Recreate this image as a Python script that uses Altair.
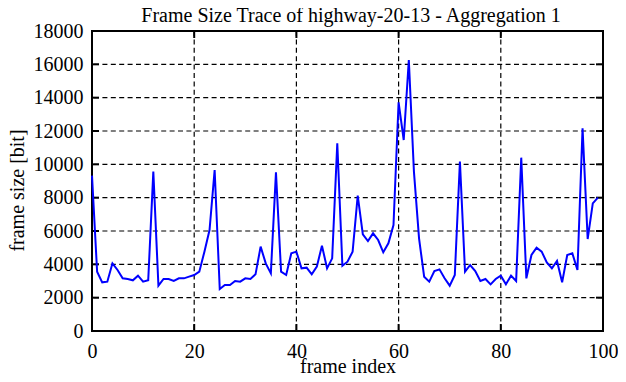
import altair as alt
import pandas as pd

frame_size = [9320, 3560, 2920, 2960, 4060, 3660, 3160, 3120, 3040, 3320,
              2960, 3040, 9560, 2720, 3120, 3120, 3000, 3160, 3160, 3260,
              3360, 3560, 4760, 6060, 9660, 2520, 2760, 2760, 3000, 2960,
              3160, 3120, 3400, 5060, 4060, 3460, 9520, 3560, 3360, 4660,
              4760, 3760, 3800, 3400, 3860, 5120, 3760, 4360, 11260, 3920,
              4160, 4760, 8120, 5800, 5400, 5860, 5460, 4720, 5260, 6360,
              13720, 11460, 16260, 9560, 5560, 3260, 2960, 3600, 3700, 3160,
              2720, 3360, 10160, 3560, 3960, 3600, 3000, 3120, 2800, 3120,
              3320, 2800, 3320, 3000, 10400, 3160, 4560, 5000, 4760, 4120,
              3760, 4200, 2920, 4560, 4660, 3660, 12160, 5520, 7660, 8000]
frame_index = list(range(len(frame_size)))

x_ticks = [0, 20, 40, 60, 80, 100]
y_ticks = [0, 2000, 4000, 6000, 8000, 10000, 12000, 14000, 16000, 18000]
title_text = ["Frame Size Trace of highway-20-13 - Aggregation 1"]

FONT = "Liberation Serif"
W, H = 511, 300

df = pd.DataFrame({"idx": frame_index, "size": frame_size})
xs = alt.Scale(domain=[0, 100], nice=False)
ys = alt.Scale(domain=[0, 18000], nice=False)

x_axis = alt.Axis(values=x_ticks, grid=False, ticks=False, domain=False,
                  labelPadding=10, labelFlush=False, format="d",
                  labelFont=FONT, labelFontSize=20, labelColor="black",
                  titleFont=FONT, titleFontSize=20, titleColor="black",
                  titleFontWeight="normal",
                  titleY=41, titleBaseline="alphabetic")
y_axis = alt.Axis(values=y_ticks, grid=False, ticks=False, domain=False,
                  labelPadding=9, labelFlush=False, format="d",
                  labelFont=FONT, labelFontSize=20, labelColor="black",
                  titleFont=FONT, titleFontSize=20, titleColor="black",
                  titleFontWeight="normal",
                  titleX=-69, titleY=159, titleBaseline="alphabetic")

grid_dash = [5, 3.4]

xgrid = alt.Chart(pd.DataFrame({"v": x_ticks[1:-1]})).mark_rule(
    color="black", strokeWidth=1.2, strokeDash=grid_dash
).encode(x=alt.X("v:Q", scale=xs, axis=x_axis, title="frame index"))

ygrid = alt.Chart(pd.DataFrame({"v": y_ticks[1:-1]})).mark_rule(
    color="black", strokeWidth=1.2, strokeDash=grid_dash
).encode(y=alt.Y("v:Q", scale=ys, axis=y_axis, title="frame size [bit]"))

# inward ticks on all four sides
ytick_l = alt.Chart(pd.DataFrame({"v": y_ticks})).mark_rule(color="black", strokeWidth=2).encode(
    y=alt.Y("v:Q", scale=ys, axis=y_axis, title="frame size [bit]"), x=alt.value(0), x2=alt.value(7))
ytick_r = alt.Chart(pd.DataFrame({"v": y_ticks})).mark_rule(color="black", strokeWidth=2).encode(
    y=alt.Y("v:Q", scale=ys, axis=y_axis, title="frame size [bit]"), x=alt.value(W - 7), x2=alt.value(W))
xtick_b = alt.Chart(pd.DataFrame({"v": x_ticks})).mark_rule(color="black", strokeWidth=2).encode(
    x=alt.X("v:Q", scale=xs, axis=x_axis, title="frame index"), y=alt.value(H - 7), y2=alt.value(H))
xtick_t = alt.Chart(pd.DataFrame({"v": x_ticks})).mark_rule(color="black", strokeWidth=2).encode(
    x=alt.X("v:Q", scale=xs, axis=x_axis, title="frame index"), y=alt.value(0), y2=alt.value(7))

line = alt.Chart(df).mark_line(color="#0000ff", strokeWidth=2).encode(
    x=alt.X("idx:Q", scale=xs, axis=x_axis, title="frame index"),
    y=alt.Y("size:Q", scale=ys, axis=y_axis, title="frame size [bit]"),
)

title = alt.Chart(pd.DataFrame({"t": title_text})).mark_text(
    font=FONT, fontSize=20, color="black", align="center", baseline="alphabetic"
).encode(text="t:N", x=alt.value(259), y=alt.value(-9))

chart = alt.layer(xgrid, ygrid, ytick_l, ytick_r, xtick_b, xtick_t, line, title).properties(
    width=W, height=H,
    autosize=alt.AutoSizeParams(type="none"),
    padding={"left": 84, "top": 23, "right": 15, "bottom": 43},
).configure_view(stroke="black", strokeWidth=2)

chart.save("out.html", embed_options={"renderer": "svg", "actions": False})
